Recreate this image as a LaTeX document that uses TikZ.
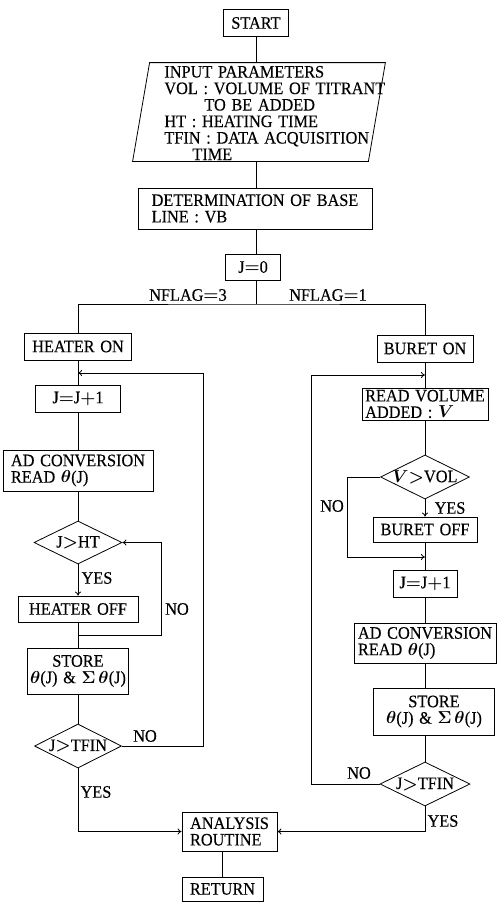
\documentclass[tikz,border=0pt]{standalone}
\usepackage{amsmath}
\usepackage{amssymb}
\usepackage{bm}
\usepackage{fontspec}
\setmainfont{Liberation Serif}[FakeStretch=0.93, WordSpace=1.4, FakeBold=0.3]
\usetikzlibrary{calc}
\usetikzlibrary{arrows.meta}
\usetikzlibrary{shapes.geometric}

\begin{document}
\begin{tikzpicture}[x=1pt, y=-1pt, line width=0.8pt,
  every node/.style={font=\fontsize{17.5}{16.5}\selectfont, inner sep=0pt},
  proc/.style 2 args={draw, minimum width=#1pt, minimum height=#2pt},
  decide/.style 2 args={draw, diamond, aspect=2, minimum width=#1pt, minimum height=#2pt},
  flow/.style={arrows={-{To[length=4pt,width=6pt]}}}]
\def\xm{256}
\def\xl{78}
\def\xr{425}
\def\sl{17pt}

\useasboundingbox (0, 0) rectangle (496, 902);

\node (start) [proc={65}{27}] at (\xm, 23) {START};
\node (input) [minimum width=252pt, minimum height=98pt] at (259, 112) {};
\draw ([xshift=\sl]input.north west) -- (input.north east)
  -- ([xshift=-\sl]input.south east) -- (input.south west) -- cycle;
\node (inputtext) [anchor=west, align=left] at (164, 113) {INPUT PARAMETERS\\
  VOL : VOLUME OF TITRANT\\ \hspace*{40pt}TO BE ADDED\\ HT : HEATING TIME\\
  TFIN : DATA ACQUISITION\\ \hspace*{28pt}TIME};
\node (base) [proc={234}{41}, align=left] at (255, 208.5) {DETERMINATION OF BASE\\ LINE : VB};
\node (j0) [proc={55}{26}] at (253, 267) {J$\bm{=}$0};
\coordinate (split) at (\xm, 304);
\node (nf3) at (188, 295) {NFLAG$\bm{=}$3};
\node (nf1) at (328, 295) {NFLAG$\bm{=}$1};

% heater branch
\node (heaton) [proc={107}{27}] at (\xl, 346.5) {HEATER ON};
\node (jl) [proc={85}{27}] at (\xl, 398.5) {J$\bm{=}$J$\bm{+}$1};
\node (adl) [proc={150}{41}, align=left] at (\xl, 470.5) {AD CONVERSION\\ READ $\bm{\theta}$(J)};
\node (htdia) [decide={88}{43}] at (\xl, 542.5) {\makebox[0pt]{J$\bm{>}$HT}};
\node (heatoff) [proc={120}{26}] at (\xl, 609) {HEATER OFF};
\node (storel) [proc={101}{46}, align=center] at (\xl, 671) {STORE\\ $\bm{\theta}$(J) \& $\bm{\Sigma}\,\bm{\theta}$(J)};
\node (tfinl) [decide={87}{44}] at (\xl, 746) {\makebox[0pt]{J$\bm{>}$TFIN}};
\node (yes1) at (97, 578) {YES};
\node (no1) at (177, 609) {NO};
\node (no2) at (145, 736) {NO};
\node (yes2) at (96, 792) {YES};

% buret branch
\node (buron) [proc={96}{27}] at (\xr, 348.5) {BURET ON};
\node (readvol) [proc={126}{32}, align=left] at (\xr, 404) {READ VOLUME\\ ADDED : $\bm{V}$};
\node (voldia) [decide={89}{44}] at (\xr, 477) {\makebox[0pt]{$\bm{V}{\bm{>}}$VOL}};
\node (buroff) [proc={104}{25}] at (\xr, 529.5) {BURET OFF};
\node (jr) [proc={64}{27}] at (\xr, 583.5) {J$\bm{=}$J$\bm{+}$1};
\node (adr) [proc={142}{40}, align=left] at (\xr, 643) {AD CONVERSION\\ READ $\bm{\theta}$(J)};
\node (storer) [proc={121}{47}, align=center] at (434, 711.5) {STORE\\ $\bm{\theta}$(J) \& $\bm{\Sigma}\,\bm{\theta}$(J)};
\node (tfinr) [decide={90}{44}] at (\xr, 784) {\makebox[0pt]{J$\bm{>}$TFIN}};
\node (no3) at (332, 506) {NO};
\node (yes3) at (450, 508) {YES};
\node (no4) at (359, 773) {NO};
\node (yes4) at (443, 821) {YES};

\node (analysis) [proc={95}{39}, align=left] at (229.5, 831.5) {ANALYSIS\\ ROUTINE};
\node (return) [proc={81}{24}] at (222.5, 889) {RETURN};

\draw (start) -- (start |- input.north);
\draw (input.south -| start) -- (base.north -| start);
\draw (base.south -| start) -- (j0.north -| start);
\draw (j0.south -| start) -- (split);
\draw (heaton.north) |- (split) -| (buron.north);

\coordinate (lj) at (\xl, 373);
\coordinate (hj) at (\xl, 635);
\draw (heaton) -- (jl);
\draw (jl) -- (adl);
\draw (adl) -- (htdia);
\draw [flow] (htdia) -- (heatoff);
\draw (heatoff) -- (storel);
\draw (storel) -- (tfinl);
\draw [flow] (hj) -| ([xshift=39pt]htdia.east) -- (htdia.east);
\draw [flow] (tfinl.east) -| ([xshift=125pt]lj) -- (lj);
\draw [flow] (tfinl.south) |- (analysis.west);

\coordinate (rj) at (\xr, 375);
\coordinate (vj) at (\xr, 557);
\draw (buron) -- (readvol);
\draw (readvol) -- (voldia);
\draw [flow] (voldia) -- (buroff);
\draw (buroff) -- (jr);
\draw (jr) -- (adr);
\draw (adr.south) -- (adr.south |- storer.north);
\draw (tfinr.north |- storer.south) -- (tfinr.north);
\draw [flow] (voldia.west) -| ([xshift=-78pt]vj) -- (vj);
\draw [flow] (tfinr.west) -| ([xshift=-114pt]rj) -- (rj);
\draw [flow] (tfinr.south) |- (analysis.east);

\draw (return.north |- analysis.south) -- (return.north);

\end{tikzpicture}
\end{document}
